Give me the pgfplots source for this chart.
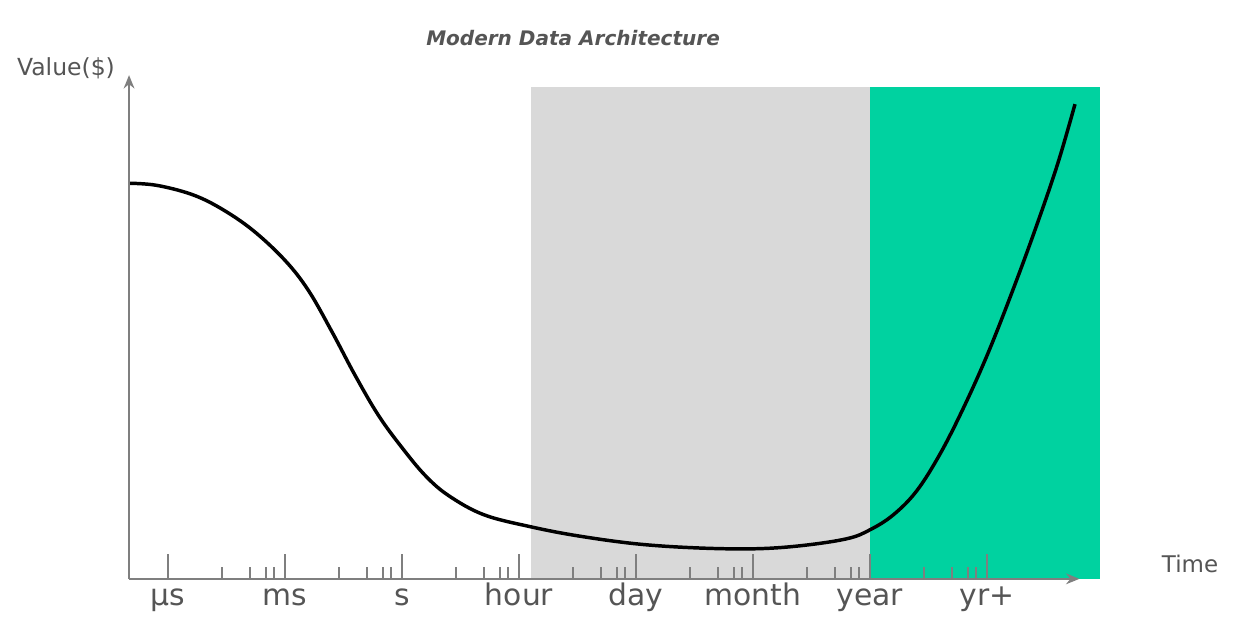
\documentclass[border=0pt]{standalone}
\usepackage{pgfplots}
\pgfplotsset{compat=1.18}
\usepackage{fontspec}
\setmainfont{DejaVu Sans}
\usetikzlibrary{arrows.meta}
\definecolor{axgray}{HTML}{7F7F7F}
\definecolor{txtgray}{HTML}{555555}
\definecolor{boxgray}{HTML}{D9D9D9}
\definecolor{boxgreen}{HTML}{00D2A0}
\begin{document}
\begin{tikzpicture}
\begin{axis}[
  scale only axis,
  width=711.75pt, height=377.25pt,
  xmin=0.667, xmax=8.79,
  ymin=0, ymax=503,
  axis lines=left,
  axis line style={axgray, line width=1.7pt, -{Stealth[length=10pt,width=8pt]}},
  clip=false,
  axis on top,
  ytick=\empty,
  xtick={1,2,3,4,5,6,7,8},
  xticklabels={μs, ms, s, hour, day, month, year, yr+},
  minor xtick={1.46,1.70,1.84,1.91, 2.46,2.70,2.84,2.91, 3.46,3.70,3.84,3.91, 4.46,4.70,4.84,4.91, 5.46,5.70,5.84,5.91, 6.46,6.70,6.84,6.91, 7.46,7.70,7.84,7.91},
  tick align=inside,
  major tick length=18.75pt,
  minor tick length=9pt,
  every tick/.style={axgray, line width=1.5pt},
  xticklabel style={anchor=base, yshift=-20.25pt, text=txtgray, font=\fontsize{22.3}{27}\selectfont},
]
% background bands
\addplot[draw=none, fill=boxgray] coordinates {(4.103,0) (7,0) (7,491) (4.103,491)} -- cycle;
\addplot[draw=none, fill=boxgreen] coordinates {(7,0) (8.966,0) (8.966,491) (7,491)} -- cycle;
% curve
\addplot[black, line width=2.6pt, smooth, tension=0.6] coordinates {
(0.667,395) (0.9,393) (1.2,384) (1.45,370) (1.726,348) (2.0,318)
(2.2,288) (2.4,247) (2.6,203) (2.8,163) (3.0,131) (3.2,103)
(3.4,83) (3.7,64) (4.1,52) (4.5,43) (5.0,35) (5.5,31)
(6.0,30) (6.4,33) (6.8,40) (7.0,49) (7.2,64) (7.4,88)
(7.6,125) (7.8,171) (8.0,223) (8.2,282) (8.4,345) (8.6,413) (8.752,474)
};
% texts
\node[text=txtgray, font=\fontsize{17.6}{21}\selectfont] at (axis cs:0.128,510) {Value(\$)};
\node[text=txtgray, font=\fontsize{17.2}{21}\selectfont] at (axis cs:9.735,15) {Time};
\node[text=txtgray, font=\fontsize{15}{18}\selectfont\bfseries\itshape] at (axis cs:4.462,540) {Modern Data Architecture};
% bounding box
\path (axis cs:-0.436,-51) rectangle (axis cs:10.111,578);
\end{axis}
\end{tikzpicture}
\end{document}
